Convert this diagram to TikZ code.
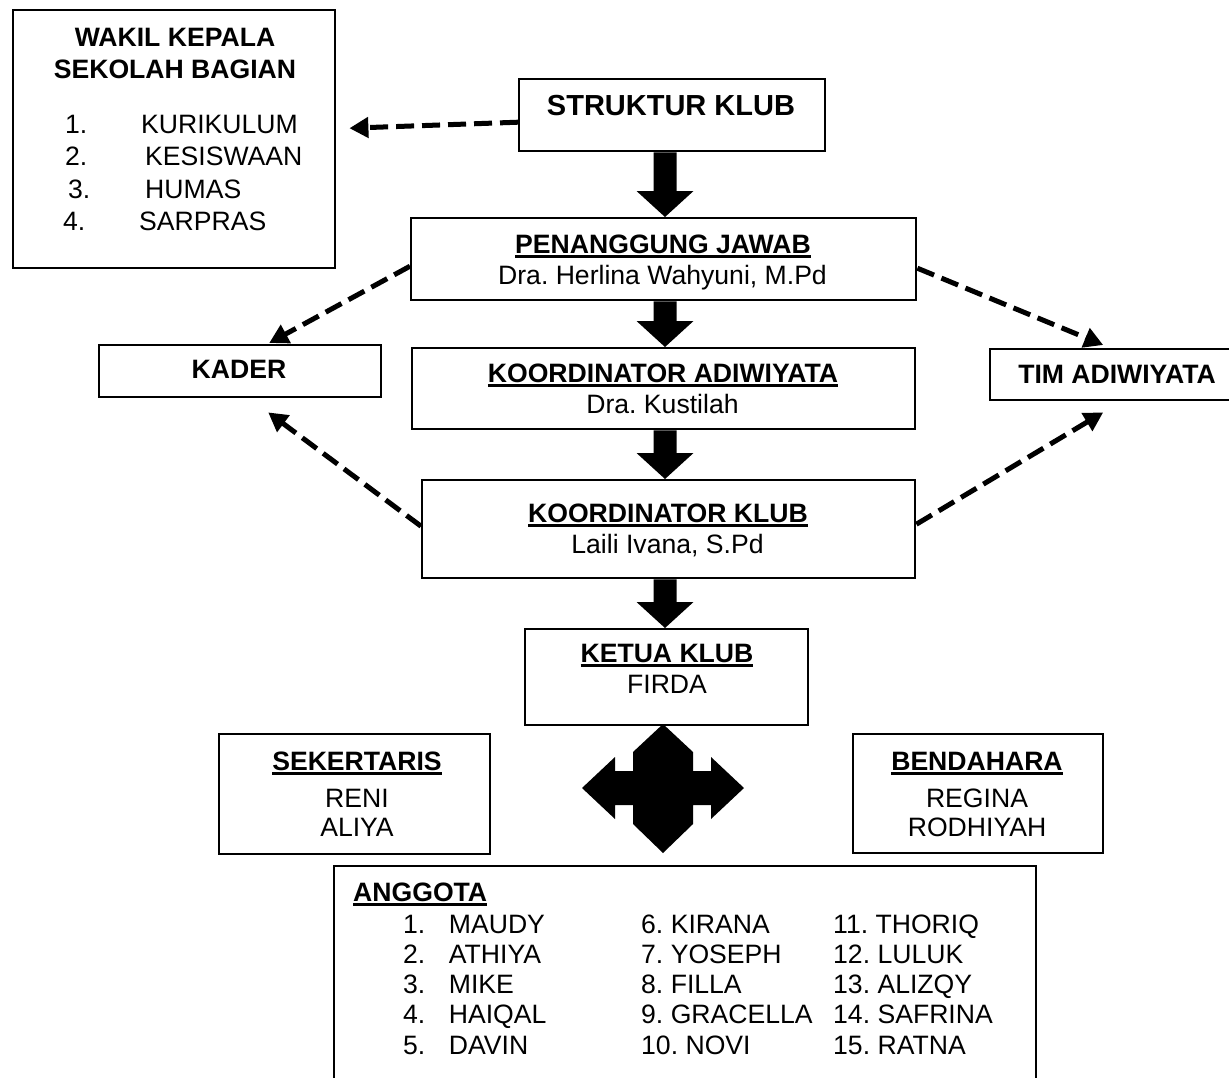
\documentclass[tikz,border=0pt]{standalone}
\usepackage{fontspec}
\setmainfont{Liberation Sans}
\usetikzlibrary{arrows.meta,calc}
\frenchspacing
\newcommand\myul[1]{\setbox0\hbox{#1}\rlap{\rule[-4.5pt]{\wd0}{2.6pt}}\box0}
\newcommand\blockarr[2]{%
  \fill let \p1=(#1.south -| ax), \p2=(#2.north -| ax) in
   (\x1-11.5pt,\y1) -- (\x1-11.5pt,\y2+26pt) -- (\x1-28.5pt,\y2+26pt) -- (\x2,\y2)
   -- (\x1+28.5pt,\y2+26pt) -- (\x1+11.5pt,\y2+26pt) -- (\x1+11.5pt,\y1) -- cycle;}
\begin{document}
\begin{tikzpicture}[x=1pt,y=-1pt,
  every node/.style={font=\fontsize{26.6}{31}\selectfont\frenchspacing},
  box/.style={draw, line width=2.4pt, rectangle, inner sep=0pt, anchor=north west},
  txt/.style={inner sep=0pt, anchor=base},
  btxt/.style={inner sep=0pt, anchor=base, font=\fontsize{26.6}{31}\selectfont\bfseries\frenchspacing},
  dasharrow/.style={line width=5pt, dash pattern=on 18pt off 8pt, -{Triangle[length=19pt,width=20pt]}}]
\useasboundingbox (0,0) rectangle (1229,1077);
\clip (0,0) rectangle (1229,1077);
\coordinate (ax) at (665,0);

% boxes
\node[box, minimum width=322pt, minimum height=258pt] (wakil) at (12,9) {};
\node[box, minimum width=306pt, minimum height=72pt] (struk) at (518,78) {};
\node[box, minimum width=505pt, minimum height=82pt] (pj) at (410,217) {};
\node[box, minimum width=503pt, minimum height=81pt] (ka) at (411,347) {};
\node[box, minimum width=493pt, minimum height=98pt] (kk) at (421,479) {};
\node[box, minimum width=283pt, minimum height=96pt] (ketua) at (524,628) {};
\node[box, minimum width=282pt, minimum height=52pt] (kader) at (98,344) {};
\node[box, minimum width=256pt, minimum height=51pt] (tim) at (989,348) {};
\node[box, minimum width=271pt, minimum height=120pt] (sek) at (218,733) {};
\node[box, minimum width=250pt, minimum height=119pt] (bend) at (852,733) {};
\node[box, minimum width=702pt, minimum height=250pt] (angg) at (333,865) {};

% texts: wakil
\node[btxt] (wk1) at (175,46.5) {WAKIL KEPALA};
\node[btxt] (wk2) at (175,78.5) {SEKOLAH BAGIAN};
\node[txt, anchor=base east] (wn1) at (87.4,133) {1.};
\node[txt, anchor=base east] (wn2) at (87.4,165) {2.};
\node[txt, anchor=base east] (wn3) at (90.4,198) {3.};
\node[txt, anchor=base east] (wn4) at (85.4,230) {4.};
\node[txt, anchor=base west] (wt1) at (141,133) {KURIKULUM};
\node[txt, anchor=base west] (wt2) at (145,165) {KESISWAAN};
\node[txt, anchor=base west] (wt3) at (145,198) {HUMAS};
\node[txt, anchor=base west] (wt4) at (139,230) {SARPRAS};

\node[txt, font=\fontsize{29}{33}\selectfont\bfseries] (st) at (671,115.5) {STRUKTUR KLUB};

\node[btxt] (pj1) at (663,253) {\myul{PENANGGUNG JAWAB}};
\node[txt] (pj2) at (662.5,284) {Dra. Herlina Wahyuni, M.Pd};

\node[btxt] (ka1) at (663,382) {\myul{KOORDINATOR ADIWIYATA}};
\node[txt] (ka2) at (662.5,413) {Dra. Kustilah};

\node[btxt] (kk1) at (668,522) {\myul{KOORDINATOR KLUB}};
\node[txt] (kk2) at (667.5,553) {Laili Ivana, S.Pd};

\node[btxt] (ke1) at (667,662) {\myul{KETUA KLUB}};
\node[txt] (ke2) at (667,693) {FIRDA};

\node[btxt] (kd) at (239,378) {KADER};
\node[btxt] (tm) at (1117,383) {TIM ADIWIYATA};

\node[btxt] (sk1) at (357,770) {\myul{SEKERTARIS}};
\node[txt] (sk2) at (357,807) {RENI};
\node[txt] (sk3) at (357,836) {ALIYA};

\node[btxt] (bd1) at (977,770) {\myul{BENDAHARA}};
\node[txt] (bd2) at (977,807) {REGINA};
\node[txt] (bd3) at (977,836) {RODHIYAH};

% anggota
\node[btxt, anchor=base west] (ag) at (353,901) {\myul{ANGGOTA}};
\foreach \n/\nm/\yy in {1/MAUDY/933, 2/ATHIYA/963, 3/MIKE/993, 4/HAIQAL/1023.5, 5/DAVIN/1054}{
  \node[txt, anchor=base east] (an\n) at (425.5,\yy) {\n.};
  \node[txt, anchor=base west] (am\n) at (448.7,\yy) {\nm};
}
\foreach \n/\nm/\yy in {6/KIRANA/933, 7/YOSEPH/963, 8/FILLA/993, 9/GRACELLA/1023.5, 10/NOVI/1054}{
  \node[txt, anchor=base west] (am\n) at (641,\yy) {\n. \nm};
}
\foreach \n/\nm/\yy in {11/THORIQ/933, 12/LULUK/963, 13/ALIZQY/993, 14/SAFRINA/1023.5, 15/RATNA/1054}{
  \node[txt, anchor=base west] (am\n) at (833,\yy) {\n. \nm};
}

% block arrows
\blockarr{struk}{pj}
\blockarr{pj}{ka}
\blockarr{ka}{kk}
\blockarr{kk}{ketua}

% cross arrow
\coordinate (cross) at (663,788);
\fill[shift={(cross)}] (0,-64) -- (-30,-36) -- (-30,-17) -- (-48,-17) -- (-48,-31) -- (-81,0)
  -- (-48,31) -- (-48,17) -- (-30,17) -- (-30,36) -- (0,65) -- (30,36) -- (30,17) -- (48,17)
  -- (48,31) -- (81,0) -- (48,-31) -- (48,-17) -- (30,-17) -- (30,-36) -- cycle;

% dashed arrows
\draw[dasharrow] ($(struk.west)+(0,7)$) -- ($(wakil.east)+(13,-11)$);
\draw[dasharrow] ($(pj.west)+(0,7)$) -- ($(kader.north)+(29,-1)$);
\draw[dasharrow] ($(kk.west)+(0,-3)$) -- ($(kader.south)+(28,14)$);
\draw[dasharrow] ($(pj.east)+(0,9)$) -- ($(tim.north)+(-15,-3)$);
\draw[dasharrow] ($(kk.east)+(0,-5)$) -- ($(tim.south)+(-15,11)$);
\end{tikzpicture}
\end{document}
